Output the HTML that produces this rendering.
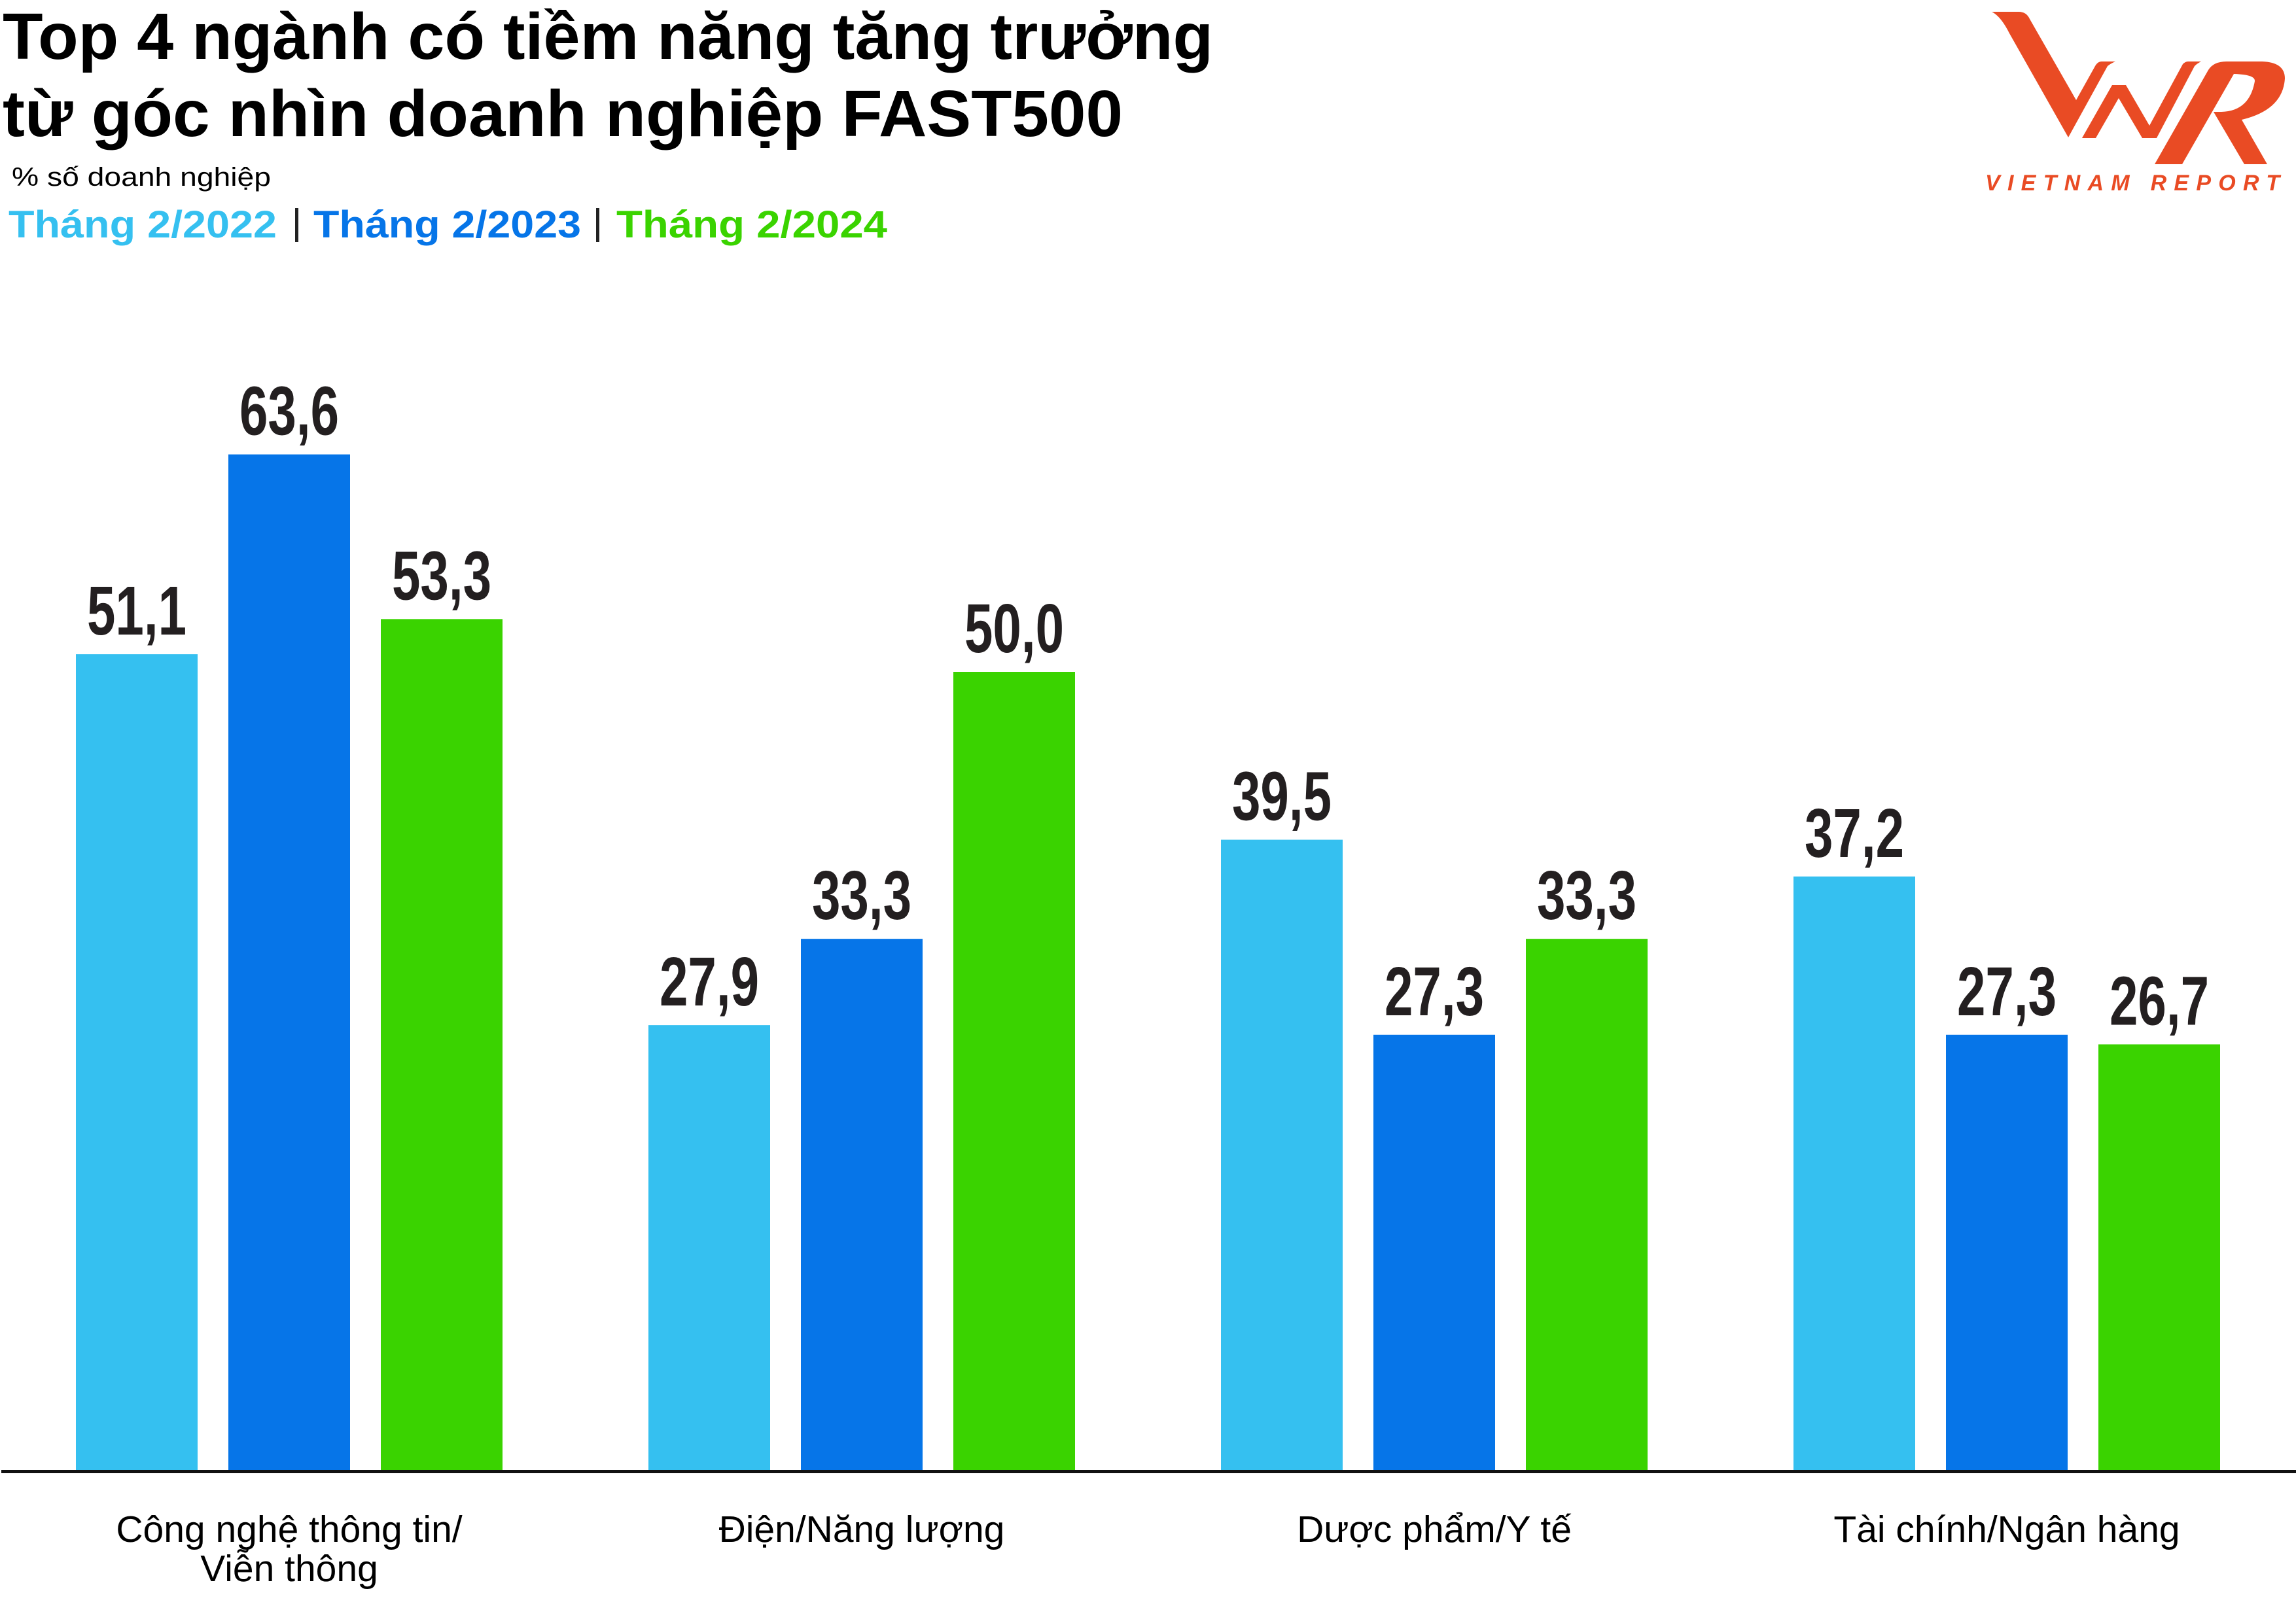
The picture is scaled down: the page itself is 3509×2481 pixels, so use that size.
<!DOCTYPE html>
<html><head><meta charset="utf-8"><style>
html,body{margin:0;padding:0;background:#fff;}
svg{display:block;}
</style></head><body>
<svg id="chart" width="3509" height="2481" viewBox="0 0 3509 2481" xmlns="http://www.w3.org/2000/svg">
<rect width="3509" height="2481" fill="#fff"/>
<g font-family="'Liberation Sans','DejaVu Sans',sans-serif" font-weight="bold" font-size="100" fill="#000">
<text x="4" y="90" textLength="1850" lengthAdjust="spacingAndGlyphs">Top 4 ngành có tiềm năng tăng trưởng</text>
<text x="4" y="208" textLength="1712" lengthAdjust="spacingAndGlyphs">từ góc nhìn doanh nghiệp FAST500</text>
</g>
<text x="18" y="284" font-family="'Liberation Sans',sans-serif" font-size="40" fill="#000" textLength="396" lengthAdjust="spacingAndGlyphs">% số doanh nghiệp</text>
<g font-family="'Liberation Sans',sans-serif" font-weight="bold" font-size="58">
<text x="13" y="363" fill="#35c0f0" textLength="410" lengthAdjust="spacingAndGlyphs">Tháng 2/2022</text>
<rect x="451" y="318" width="5" height="52" fill="#222"/>
<text x="479" y="363" fill="#0675e8" textLength="409" lengthAdjust="spacingAndGlyphs">Tháng 2/2023</text>
<rect x="911" y="318" width="5" height="52" fill="#222"/>
<text x="942" y="363" fill="#3ad300" textLength="414" lengthAdjust="spacingAndGlyphs">Tháng 2/2024</text>
</g>
<g fill="#e94b24">
<path d="M3044 18 L3085 18 Q3097 18 3102 29 L3173 153 L3202 101 Q3206 94 3212 94 L3233 94 Q3226 97 3221 101 L3161 210 L3071 51 Q3058 25 3044 18 Z"/>
<path d="M3182 211 L3228 130 L3249 130 L3285 192 L3336 98 Q3340 94 3344 94 L3364 94 Q3358 97 3354 101 L3296 211 L3274 211 L3238 150 L3203 211 Z"/>
<path fill-rule="evenodd" d="M3293 251 L3375 107 Q3383 94 3403 94 L3457 94 Q3492 95 3492 120 Q3489 168 3426 183 L3465 251 L3430 251 L3383 171 L3395 171 Q3438 170 3446 124 Q3447 114 3414 113 L3335 251 Z"/>
<text x="3034" y="291" font-family="'Liberation Sans',sans-serif" font-weight="bold" font-style="italic" font-size="34" textLength="450" lengthAdjust="spacing">VIETNAM REPORT</text>
</g>
<g id="bars"></g>
<g id="labels"></g>
<g id="cats"></g>
<rect x="2" y="2247" width="3507" height="5" fill="#111"/>
</svg>
<script>
const categories = [["Công nghệ thông tin/", "Viễn thông"], ["Điện/Năng lượng"], ["Dược phẩm/Y tế"], ["Tài chính/Ngân hàng"]];
const seriesNames = ["Tháng 2/2022", "Tháng 2/2023", "Tháng 2/2024"];
const values2022 = [51.1, 27.9, 39.5, 37.2];
const values2023 = [63.6, 33.3, 27.3, 27.3];
const values2024 = [53.3, 50.0, 33.3, 26.7];
const colors = ["#35c0f0", "#0675e8", "#3ad300"];

const NS = "http://www.w3.org/2000/svg";
const baseY = 2249, pxPerUnit = 24.44;
const groupX0 = 116, groupStep = 875, barW = 186, barStep = 233;
function yScale(v){ return baseY - v * pxPerUnit; }
function xScale(ci, si){ return groupX0 + ci * groupStep + si * barStep; }
function fmt(v){ return v.toFixed(1).replace('.', ','); }

const series = [values2022, values2023, values2024];
const barsG = document.getElementById('bars');
const labelsG = document.getElementById('labels');
const catsG = document.getElementById('cats');
series.forEach((vals, si) => {
  vals.forEach((v, ci) => {
    const r = document.createElementNS(NS, 'rect');
    
    
    const x = xScale(ci, si), y = yScale(v);
    r.setAttribute('x', x); r.setAttribute('y', y);
    r.setAttribute('width', barW); r.setAttribute('height', baseY - y);
    r.setAttribute('fill', colors[si]);
    barsG.appendChild(r);
    const t = document.createElementNS(NS, 'text');
    
    
    t.setAttribute('x', x + barW / 2);
    t.setAttribute('y', y - 30);
    t.setAttribute('text-anchor', 'middle');
    t.setAttribute('font-family', "'Liberation Sans Narrow','Liberation Sans',sans-serif");
    t.setAttribute('font-weight', 'bold');
    t.setAttribute('font-size', '106');
    t.setAttribute('fill', '#231f20');
    t.setAttribute('textLength', '152');
    t.setAttribute('lengthAdjust', 'spacingAndGlyphs');
    t.textContent = fmt(v);
    labelsG.appendChild(t);
  });
});
categories.forEach((lines, ci) => {
  const cx = xScale(ci, 1) + barW / 2;
  lines.forEach((line, li) => {
    const t = document.createElementNS(NS, 'text');
    
    
    t.setAttribute('x', cx);
    t.setAttribute('y', 2357 + li * 60);
    t.setAttribute('text-anchor', 'middle');
    t.setAttribute('font-family', "'Liberation Sans',sans-serif");
    t.setAttribute('font-size', '57');
    t.setAttribute('fill', '#000');
    t.textContent = line;
    catsG.appendChild(t);
  });
});
</script>
</body></html>
